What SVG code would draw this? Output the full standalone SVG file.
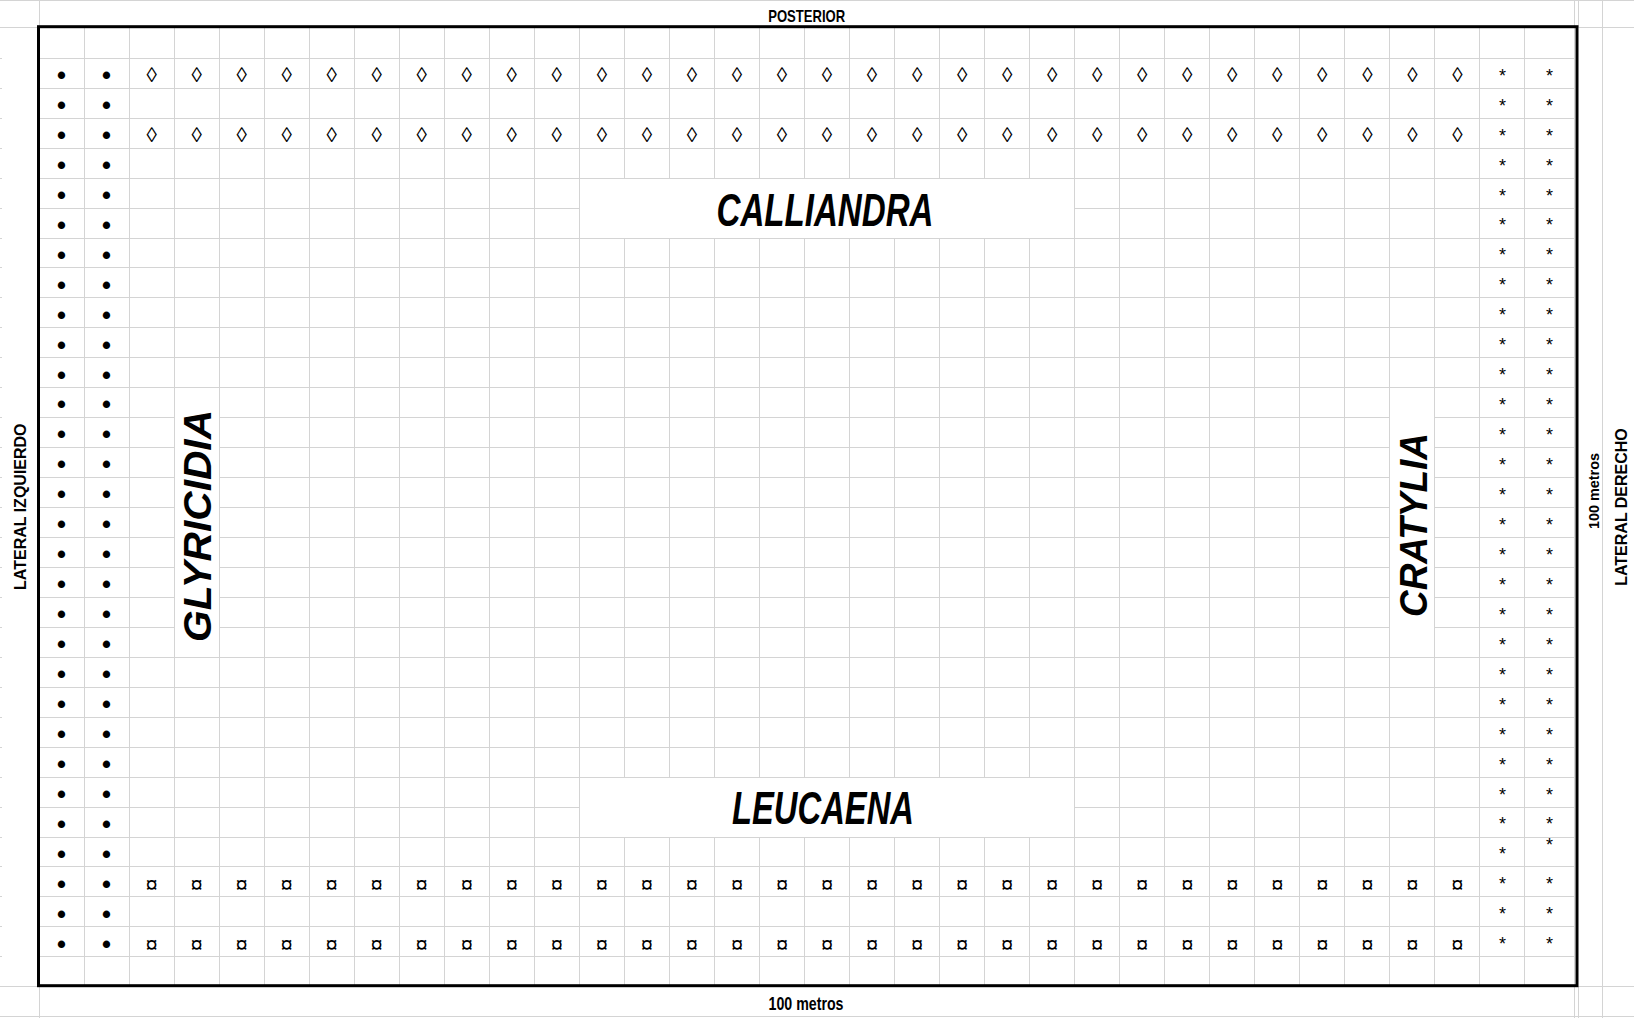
<svg xmlns="http://www.w3.org/2000/svg" width="1634" height="1018" viewBox="0 0 1634 1018">
<style>
.g{fill:none;stroke:#d4d4d4;stroke-width:1}
.b{fill:none;stroke:#000;stroke-width:3}
.m{fill:#fff;stroke:none}
text{font-family:"Liberation Sans",Arial,sans-serif;fill:#000}
.lbl{font-weight:bold;text-anchor:middle}
.sp{font-weight:bold;font-style:italic;text-anchor:middle}
.s{text-anchor:middle}
.dot{font-family:"DejaVu Sans",sans-serif;font-weight:bold;font-size:25.5px}
.dia{font-size:21px}
.cur{font-size:22px}
.ast{font-size:18px}
</style>
<rect width="1634" height="1018" fill="#fff"/>
<g id="gridlines">
<path class="g" d="M0 0.5H1634M0 1016.5H1634M0 27.5H38M1578 27.5H1634M0 986.5H38M1578 986.5H1634M39.5 0V28M39.5 986V1018M1574.5 0V28M1574.5 986V1018M1578.5 0V28M1578.5 986V1018M1602.5 0V1018"/>
<path class="g" d="M39 58.5H1574M39 88.5H1574M39 118.5H1574M39 148.5H1574M39 178.5H1574M39 208.5H1574M39 238.5H1574M39 267.5H1574M39 297.5H1574M39 327.5H1574M39 357.5H1574M39 387.5H1574M39 417.5H1574M39 447.5H1574M39 477.5H1574M39 507.5H1574M39 537.5H1574M39 567.5H1574M39 597.5H1574M39 627.5H1574M39 657.5H1574M39 687.5H1574M39 717.5H1574M39 747.5H1574M39 777.5H1574M39 807.5H1574M39 837.5H1574M39 866.5H1574M39 896.5H1574M39 926.5H1574M39 956.5H1574"/>
<path class="g" d="M0 58.5H2M0 88.5H2M0 118.5H2M0 148.5H2M0 178.5H2M0 208.5H2M0 238.5H2M0 267.5H2M0 297.5H2M0 327.5H2M0 357.5H2M0 387.5H2M0 417.5H2M0 447.5H2M0 477.5H2M0 507.5H2M0 537.5H2M0 567.5H2M0 597.5H2M0 627.5H2M0 657.5H2M0 687.5H2M0 717.5H2M0 747.5H2M0 777.5H2M0 807.5H2M0 837.5H2M0 866.5H2M0 896.5H2M0 926.5H2M0 956.5H2"/>
<path class="g" d="M84.5 28V986M129.5 28V986M174.5 28V986M219.5 28V986M264.5 28V986M309.5 28V986M354.5 28V986M399.5 28V986M444.5 28V986M489.5 28V986M534.5 28V986M579.5 28V986M624.5 28V986M669.5 28V986M714.5 28V986M759.5 28V986M804.5 28V986M849.5 28V986M894.5 28V986M939.5 28V986M984.5 28V986M1029.5 28V986M1074.5 28V986M1119.5 28V986M1164.5 28V986M1209.5 28V986M1254.5 28V986M1299.5 28V986M1344.5 28V986M1389.5 28V986M1434.5 28V986M1479.5 28V986M1524.5 28V986M1574.5 28V986"/>
</g>
<g id="merged-cells">
<rect class="m" x="580" y="179" width="494" height="59"/>
<rect class="m" x="580" y="778" width="494" height="59"/>
<rect class="m" x="175" y="388" width="44" height="269"/>
<rect class="m" x="1390" y="388" width="44" height="269"/>
</g>
<rect id="border" class="b" x="38.5" y="26.7" width="1538.5" height="959"/>
<g id="labels">
<text class="lbl" x="806.7" y="21.7" font-size="17" textLength="77" lengthAdjust="spacingAndGlyphs">POSTERIOR</text>
<text class="lbl" x="806" y="1010" font-size="17.5" textLength="75" lengthAdjust="spacingAndGlyphs">100 metros</text>
<text class="lbl" transform="translate(25.5,506.7) rotate(-90)" font-size="16">LATERAL IZQUIERDO</text>
<text class="lbl" transform="translate(1599,491) rotate(-90)" font-size="15.5" textLength="76" lengthAdjust="spacingAndGlyphs">100 metros</text>
<text class="lbl" transform="translate(1627,507) rotate(-90)" font-size="16">LATERAL DERECHO</text>
</g>
<g id="calliandra"><text class="sp" x="825" y="226" font-size="46" textLength="217" lengthAdjust="spacingAndGlyphs">CALLIANDRA</text></g>
<g id="leucaena"><text class="sp" x="823" y="824" font-size="46" textLength="182" lengthAdjust="spacingAndGlyphs">LEUCAENA</text></g>
<g id="glyricidia"><text class="sp" transform="translate(211,526) rotate(-90)" font-size="39" textLength="232" lengthAdjust="spacingAndGlyphs">GLYRICIDIA</text></g>
<g id="cratylia"><text class="sp" transform="translate(1427,525) rotate(-90)" font-size="38" textLength="184" lengthAdjust="spacingAndGlyphs">CRATYLIA</text></g>
<g id="dots" class="s dot">
<text x="61.5" y="84">•</text><text x="106.5" y="84">•</text>
<text x="61.5" y="113.9">•</text><text x="106.5" y="113.9">•</text>
<text x="61.5" y="143.9">•</text><text x="106.5" y="143.9">•</text>
<text x="61.5" y="173.8">•</text><text x="106.5" y="173.8">•</text>
<text x="61.5" y="203.8">•</text><text x="106.5" y="203.8">•</text>
<text x="61.5" y="233.7">•</text><text x="106.5" y="233.7">•</text>
<text x="61.5" y="263.7">•</text><text x="106.5" y="263.7">•</text>
<text x="61.5" y="293.6">•</text><text x="106.5" y="293.6">•</text>
<text x="61.5" y="323.6">•</text><text x="106.5" y="323.6">•</text>
<text x="61.5" y="353.5">•</text><text x="106.5" y="353.5">•</text>
<text x="61.5" y="383.5">•</text><text x="106.5" y="383.5">•</text>
<text x="61.5" y="413.4">•</text><text x="106.5" y="413.4">•</text>
<text x="61.5" y="443.4">•</text><text x="106.5" y="443.4">•</text>
<text x="61.5" y="473.3">•</text><text x="106.5" y="473.3">•</text>
<text x="61.5" y="503.3">•</text><text x="106.5" y="503.3">•</text>
<text x="61.5" y="533.2">•</text><text x="106.5" y="533.2">•</text>
<text x="61.5" y="563.2">•</text><text x="106.5" y="563.2">•</text>
<text x="61.5" y="593.1">•</text><text x="106.5" y="593.1">•</text>
<text x="61.5" y="623.1">•</text><text x="106.5" y="623.1">•</text>
<text x="61.5" y="653">•</text><text x="106.5" y="653">•</text>
<text x="61.5" y="683">•</text><text x="106.5" y="683">•</text>
<text x="61.5" y="712.9">•</text><text x="106.5" y="712.9">•</text>
<text x="61.5" y="742.9">•</text><text x="106.5" y="742.9">•</text>
<text x="61.5" y="772.8">•</text><text x="106.5" y="772.8">•</text>
<text x="61.5" y="802.8">•</text><text x="106.5" y="802.8">•</text>
<text x="61.5" y="832.7">•</text><text x="106.5" y="832.7">•</text>
<text x="61.5" y="862.7">•</text><text x="106.5" y="862.7">•</text>
<text x="61.5" y="892.6">•</text><text x="106.5" y="892.6">•</text>
<text x="61.5" y="922.6">•</text><text x="106.5" y="922.6">•</text>
<text x="61.5" y="952.5">•</text><text x="106.5" y="952.5">•</text>
</g>
<g id="asterisks" class="s ast">
<text x="1502.5" y="81.7">*</text><text x="1549.5" y="81.7">*</text>
<text x="1502.5" y="111.6">*</text><text x="1549.5" y="111.6">*</text>
<text x="1502.5" y="141.6">*</text><text x="1549.5" y="141.6">*</text>
<text x="1502.5" y="171.5">*</text><text x="1549.5" y="171.5">*</text>
<text x="1502.5" y="201.5">*</text><text x="1549.5" y="201.5">*</text>
<text x="1502.5" y="231.4">*</text><text x="1549.5" y="231.4">*</text>
<text x="1502.5" y="261.4">*</text><text x="1549.5" y="261.4">*</text>
<text x="1502.5" y="291.3">*</text><text x="1549.5" y="291.3">*</text>
<text x="1502.5" y="321.3">*</text><text x="1549.5" y="321.3">*</text>
<text x="1502.5" y="351.2">*</text><text x="1549.5" y="351.2">*</text>
<text x="1502.5" y="381.2">*</text><text x="1549.5" y="381.2">*</text>
<text x="1502.5" y="411.1">*</text><text x="1549.5" y="411.1">*</text>
<text x="1502.5" y="441.1">*</text><text x="1549.5" y="441.1">*</text>
<text x="1502.5" y="471">*</text><text x="1549.5" y="471">*</text>
<text x="1502.5" y="501">*</text><text x="1549.5" y="501">*</text>
<text x="1502.5" y="530.9">*</text><text x="1549.5" y="530.9">*</text>
<text x="1502.5" y="560.9">*</text><text x="1549.5" y="560.9">*</text>
<text x="1502.5" y="590.8">*</text><text x="1549.5" y="590.8">*</text>
<text x="1502.5" y="620.8">*</text><text x="1549.5" y="620.8">*</text>
<text x="1502.5" y="650.7">*</text><text x="1549.5" y="650.7">*</text>
<text x="1502.5" y="680.7">*</text><text x="1549.5" y="680.7">*</text>
<text x="1502.5" y="710.6">*</text><text x="1549.5" y="710.6">*</text>
<text x="1502.5" y="740.6">*</text><text x="1549.5" y="740.6">*</text>
<text x="1502.5" y="770.5">*</text><text x="1549.5" y="770.5">*</text>
<text x="1502.5" y="800.5">*</text><text x="1549.5" y="800.5">*</text>
<text x="1502.5" y="830.4">*</text><text x="1549.5" y="830.4">*</text>
<text x="1502.5" y="860.4">*</text><text x="1549.5" y="851.4">*</text>
<text x="1502.5" y="890.3">*</text><text x="1549.5" y="890.3">*</text>
<text x="1502.5" y="920.3">*</text><text x="1549.5" y="920.3">*</text>
<text x="1502.5" y="950.2">*</text><text x="1549.5" y="950.2">*</text>
</g>
<g id="diamonds" class="s dia">
<text x="151.6" y="82.4">◊</text><text x="196.6" y="82.4">◊</text><text x="241.6" y="82.4">◊</text><text x="286.7" y="82.4">◊</text><text x="331.7" y="82.4">◊</text><text x="376.7" y="82.4">◊</text><text x="421.7" y="82.4">◊</text><text x="466.8" y="82.4">◊</text><text x="511.8" y="82.4">◊</text><text x="556.8" y="82.4">◊</text><text x="601.9" y="82.4">◊</text><text x="646.9" y="82.4">◊</text><text x="691.9" y="82.4">◊</text><text x="737" y="82.4">◊</text><text x="782" y="82.4">◊</text><text x="827" y="82.4">◊</text><text x="872" y="82.4">◊</text><text x="917.1" y="82.4">◊</text><text x="962.1" y="82.4">◊</text><text x="1007.1" y="82.4">◊</text><text x="1052.2" y="82.4">◊</text><text x="1097.2" y="82.4">◊</text><text x="1142.2" y="82.4">◊</text><text x="1187.3" y="82.4">◊</text><text x="1232.3" y="82.4">◊</text><text x="1277.3" y="82.4">◊</text><text x="1322.3" y="82.4">◊</text><text x="1367.4" y="82.4">◊</text><text x="1412.4" y="82.4">◊</text><text x="1457.4" y="82.4">◊</text>
<text x="151.6" y="142.3">◊</text><text x="196.6" y="142.3">◊</text><text x="241.6" y="142.3">◊</text><text x="286.7" y="142.3">◊</text><text x="331.7" y="142.3">◊</text><text x="376.7" y="142.3">◊</text><text x="421.7" y="142.3">◊</text><text x="466.8" y="142.3">◊</text><text x="511.8" y="142.3">◊</text><text x="556.8" y="142.3">◊</text><text x="601.9" y="142.3">◊</text><text x="646.9" y="142.3">◊</text><text x="691.9" y="142.3">◊</text><text x="737" y="142.3">◊</text><text x="782" y="142.3">◊</text><text x="827" y="142.3">◊</text><text x="872" y="142.3">◊</text><text x="917.1" y="142.3">◊</text><text x="962.1" y="142.3">◊</text><text x="1007.1" y="142.3">◊</text><text x="1052.2" y="142.3">◊</text><text x="1097.2" y="142.3">◊</text><text x="1142.2" y="142.3">◊</text><text x="1187.3" y="142.3">◊</text><text x="1232.3" y="142.3">◊</text><text x="1277.3" y="142.3">◊</text><text x="1322.3" y="142.3">◊</text><text x="1367.4" y="142.3">◊</text><text x="1412.4" y="142.3">◊</text><text x="1457.4" y="142.3">◊</text>
</g>
<g id="currency" class="s cur">
<text x="151.6" y="892">¤</text><text x="196.6" y="892">¤</text><text x="241.6" y="892">¤</text><text x="286.7" y="892">¤</text><text x="331.7" y="892">¤</text><text x="376.7" y="892">¤</text><text x="421.7" y="892">¤</text><text x="466.8" y="892">¤</text><text x="511.8" y="892">¤</text><text x="556.8" y="892">¤</text><text x="601.9" y="892">¤</text><text x="646.9" y="892">¤</text><text x="691.9" y="892">¤</text><text x="737" y="892">¤</text><text x="782" y="892">¤</text><text x="827" y="892">¤</text><text x="872" y="892">¤</text><text x="917.1" y="892">¤</text><text x="962.1" y="892">¤</text><text x="1007.1" y="892">¤</text><text x="1052.2" y="892">¤</text><text x="1097.2" y="892">¤</text><text x="1142.2" y="892">¤</text><text x="1187.3" y="892">¤</text><text x="1232.3" y="892">¤</text><text x="1277.3" y="892">¤</text><text x="1322.3" y="892">¤</text><text x="1367.4" y="892">¤</text><text x="1412.4" y="892">¤</text><text x="1457.4" y="892">¤</text>
<text x="151.6" y="951.9">¤</text><text x="196.6" y="951.9">¤</text><text x="241.6" y="951.9">¤</text><text x="286.7" y="951.9">¤</text><text x="331.7" y="951.9">¤</text><text x="376.7" y="951.9">¤</text><text x="421.7" y="951.9">¤</text><text x="466.8" y="951.9">¤</text><text x="511.8" y="951.9">¤</text><text x="556.8" y="951.9">¤</text><text x="601.9" y="951.9">¤</text><text x="646.9" y="951.9">¤</text><text x="691.9" y="951.9">¤</text><text x="737" y="951.9">¤</text><text x="782" y="951.9">¤</text><text x="827" y="951.9">¤</text><text x="872" y="951.9">¤</text><text x="917.1" y="951.9">¤</text><text x="962.1" y="951.9">¤</text><text x="1007.1" y="951.9">¤</text><text x="1052.2" y="951.9">¤</text><text x="1097.2" y="951.9">¤</text><text x="1142.2" y="951.9">¤</text><text x="1187.3" y="951.9">¤</text><text x="1232.3" y="951.9">¤</text><text x="1277.3" y="951.9">¤</text><text x="1322.3" y="951.9">¤</text><text x="1367.4" y="951.9">¤</text><text x="1412.4" y="951.9">¤</text><text x="1457.4" y="951.9">¤</text>
</g>
</svg>
